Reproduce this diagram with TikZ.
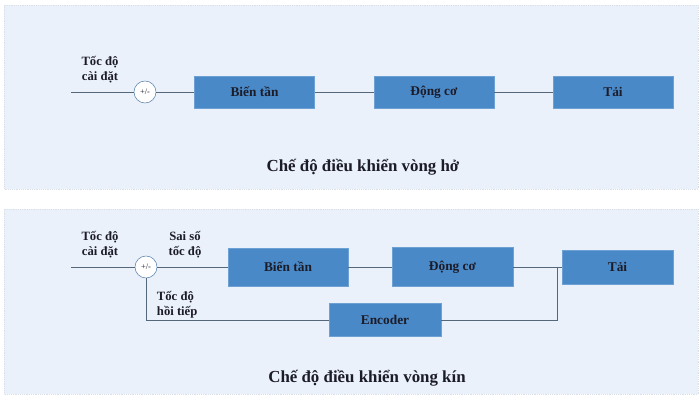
\documentclass[tikz,border=0pt]{standalone}
\usepackage{fontspec}
\setmainfont{Liberation Serif}
\usetikzlibrary{positioning}
\definecolor{PanelClr}{HTML}{EAF1FB}
\definecolor{BlockClr}{HTML}{4A89C8}
\definecolor{WireClr}{HTML}{55677A}
\definecolor{SumClr}{HTML}{5B82AE}
\definecolor{TextClr}{HTML}{1C1C28}

\tikzset{
  panel/.style={fill=PanelClr,draw=PanelClr!85!gray,densely dotted,line width=0.3pt},
  block/.style={fill=BlockClr,draw=BlockClr!80!white,minimum width=30mm,minimum height=8mm,
    inner sep=0pt,font=\bfseries\fontsize{9.5}{11}\selectfont,text=TextClr},
  sum/.style={circle,draw=SumClr,fill=white,minimum size=5.5mm,inner sep=0pt,
    font=\fontsize{6}{7}\selectfont,text=TextClr},
  wire/.style={draw=WireClr,line width=0.7pt},
  lbl/.style={font=\bfseries\fontsize{9}{10.5}\selectfont,text=TextClr,align=center},
  caption/.style={font=\bfseries\fontsize{12}{14}\selectfont,text=TextClr}
}

\begin{document}
\begin{tikzpicture}[x=0.25mm,y=-0.25mm]
\useasboundingbox (0,0) rectangle (700,397);
\fill[white] (0,0) rectangle (700,397);
\path[panel] (4,5) rectangle (698,189);
\path[panel] (4,209) rectangle (698,394);

% open loop
\coordinate (inA) at (71,92);
\node[sum] (sumA) at (145,92) {+/-};
\node[block] (invA) at (254.5,92) {Biến tần};
\node[block] (motA) at (434,92) {Động cơ};
\node[block] (loadA) at (613,92) {Tải};
\draw[wire] (inA) -- (sumA) -- (invA) -- (motA) -- (loadA);
\node[lbl] (setA) at (100,70) {Tốc độ\\cài đặt};
\node[caption] (capA) at (363,167) {Chế độ điều khiển vòng hở};

% closed loop
\coordinate (inB) at (71,267);
\node[sum] (sumB) at (146,267) {+/-};
\node[block,minimum height=9.5mm] (invB) at (288,267) {Biến tần};
\node[block,minimum width=30.25mm,minimum height=9.75mm] (motB) at (452.5,267) {Động cơ};
\node[block,minimum width=27.75mm,minimum height=8.5mm] (loadB) at (617.5,267) {Tải};
\node[block,minimum width=28mm,minimum height=8.25mm] (encB) at (385,320) {Encoder};
\coordinate (tapB) at (557,267);
\draw[wire] (inB) -- (sumB) -- (invB) -- (motB) -- (loadB);
\draw[wire] (tapB) |- (encB.east);
\draw[wire] (encB.west) -| (sumB.south);
\node[lbl] (setB) at (100,245) {Tốc độ\\cài đặt};
\node[lbl] (errB) at (185,245) {Sai số\\tốc độ};
\node[lbl,align=left,anchor=west] (fbB) at (152,305) {Tốc độ\\hồi tiếp};
\node[caption] (capB) at (367,378) {Chế độ điều khiển vòng kín};
\end{tikzpicture}
\end{document}
